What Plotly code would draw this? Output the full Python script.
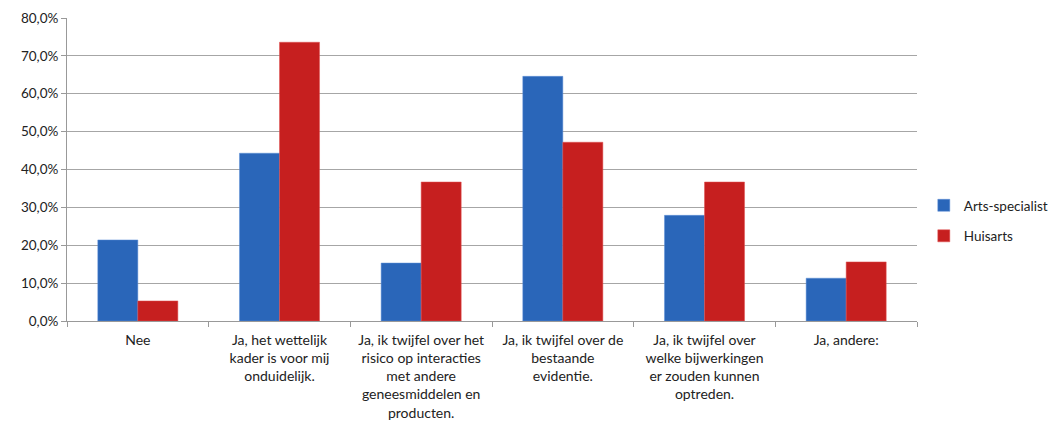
import plotly.graph_objects as go

categories = [
    "Nee",
    "Ja, het wettelijk<br>kader is voor mij<br>onduidelijk.",
    "Ja, ik twijfel over het<br>risico op interacties<br>met andere<br>geneesmiddelen en<br>producten.",
    "Ja, ik twijfel over de<br>bestaande<br>evidentie.",
    "Ja, ik twijfel over<br>welke bijwerkingen<br>er zouden kunnen<br>optreden.",
    "Ja, andere:",
]
arts_specialist = [21.4, 44.3, 15.3, 64.6, 27.9, 11.3]
huisarts = [5.3, 73.6, 36.7, 47.2, 36.7, 15.6]
y_ticks = [0, 10, 20, 30, 40, 50, 60, 70, 80]
y_tick_labels = [f"{v:.1f}%".replace(".", ",") for v in y_ticks]

font = "Lato, Open Sans, sans-serif"

fig = go.Figure()
fig.add_trace(go.Bar(name="Arts-specialist", x=categories, y=arts_specialist,
                     legendgroup="a",
                     marker=dict(color="#2A66B9", line=dict(color="#5C8FD6", width=0.5))))
fig.add_trace(go.Bar(name="Huisarts", x=categories, y=huisarts,
                     legendgroup="b",
                     marker=dict(color="#C61F1F", line=dict(color="#E05050", width=0.5))))

fig.update_layout(
    width=1051, height=430,
    margin=dict(l=67, r=134, t=18, b=109, autoexpand=False),
    paper_bgcolor="white", plot_bgcolor="white",
    barmode="group", bargap=0.435, bargroupgap=0,
    font=dict(family=font, size=13, color="#222222"),
    showlegend=True,
    legend=dict(x=1.008, y=0.33, xanchor="left", yanchor="middle",
                font=dict(size=13.5, color="#222222"), tracegroupgap=10,
                traceorder="grouped",
                itemwidth=30, bgcolor="rgba(0,0,0,0)"),
)
fig.update_xaxes(
    type="category", tickson="boundaries", ticks="outside", ticklen=5,
    tickcolor="#999999", showline=True, linecolor="#999999", linewidth=1,
    showgrid=False, tickfont=dict(size=14, color="#222222"), tickangle=0,
    ticklabelstandoff=6,
)
fig.update_yaxes(
    range=[0, 80], tickvals=y_ticks, ticktext=y_tick_labels,
    showgrid=True, gridcolor="#A6A6A6", gridwidth=1,
    showline=True, linecolor="#999999", linewidth=1,
    ticks="outside", ticklen=5, tickcolor="#999999",
    tickfont=dict(size=13.5, color="#222222"), zeroline=False,
)

fig.write_html("out.html")
